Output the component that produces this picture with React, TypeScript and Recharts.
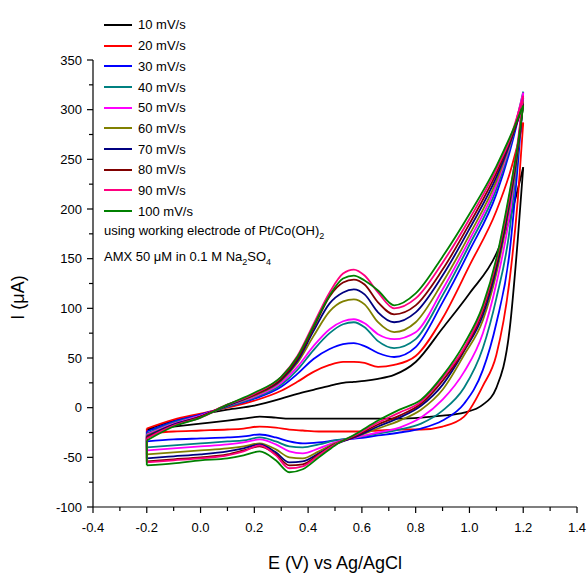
import React from 'react';
import { LineChart, Line, XAxis, YAxis } from 'recharts';

const FONT = '"Liberation Sans", Arial, sans-serif';

const RATES = ['10 mV/s', '20 mV/s', '30 mV/s', '40 mV/s', '50 mV/s', '60 mV/s', '70 mV/s', '80 mV/s', '90 mV/s', '100 mV/s'];
const COLORS = ['#000000', '#ff0000', '#0000ff', '#008080', '#ff00ff', '#808000', '#000080', '#800000', '#ff0080', '#008000'];

// anodic sweep, -0.2 -> 1.2 V
const E_FWD = [-0.2, -0.1, 0, 0.1, 0.2, 0.3, 0.36, 0.42, 0.48, 0.53, 0.57, 0.61, 0.66, 0.72, 0.8, 0.9, 1.0, 1.1, 1.15, 1.2];
// return sweep, listed from low to high potential
const E_REV = [-0.2, -0.1, 0, 0.1, 0.16, 0.22, 0.28, 0.33, 0.38, 0.44, 0.5, 0.58, 0.66, 0.74, 0.82, 0.9, 0.98, 1.05, 1.1, 1.15, 1.18, 1.2];

const I_FWD_10 = [-22, -13, -7, -2, 2, 9, 14, 18, 22, 25, 26, 27, 29, 33, 46, 80, 115, 155, 190, 242];
const I_FWD_20 = [-21, -12, -6, 0, 7, 17, 26, 36, 43, 46, 46, 45, 41, 43, 52, 90, 143, 198, 236, 287];
const I_FWD_30 = [-24, -14, -7, 1, 9, 21, 34, 49, 59, 64, 65, 62, 55, 51, 61, 106, 158, 215, 258, 312];
const I_FWD_40 = [-26, -15, -8, 1, 10, 23, 38, 58, 75, 84, 86, 81, 67, 60, 69, 113, 164, 220, 262, 318];
const I_FWD_50 = [-27, -16, -8, 2, 11, 25, 41, 62, 79, 87, 89, 85, 74, 69, 76, 119, 169, 224, 264, 317];
const I_FWD_60 = [-28, -17, -9, 2, 12, 27, 45, 72, 97, 107, 109, 104, 86, 76, 86, 126, 174, 228, 265, 308];
const I_FWD_70 = [-29, -17, -9, 2, 13, 28, 47, 77, 105, 116, 119, 114, 96, 86, 96, 133, 180, 232, 266, 306];
const I_FWD_80 = [-30, -18, -9, 3, 13, 29, 49, 80, 112, 126, 129, 124, 106, 94, 103, 139, 185, 236, 268, 305];
const I_FWD_90 = [-31, -18, -10, 3, 14, 31, 52, 84, 116, 135, 139, 133, 116, 100, 110, 146, 190, 240, 270, 314];
const I_FWD_100 = [-33, -19, -10, 3, 15, 31, 51, 82, 113, 130, 133, 128, 118, 103, 115, 152, 195, 243, 272, 304];

const I_REV_10 = [-22, -19, -16, -13, -11, -9, -10, -11, -11, -11, -11, -11, -11, -11, -10, -8, -5, 3, 20, 80, 170, 242];
const I_REV_20 = [-26, -24, -23, -22, -21, -19, -20, -22, -23, -24, -24, -24, -23, -22, -22, -19, -9, 22, 53, 130, 210, 287];
const I_REV_30 = [-34, -32, -31, -30, -29, -27, -30, -34, -36, -35, -33, -31, -28, -25, -21, -13, 4, 38, 85, 158, 245, 312];
const I_REV_40 = [-40, -38, -36, -34, -33, -30, -34, -39, -40, -37, -33, -30, -26, -22, -16, -3, 20, 60, 110, 180, 258, 318];
const I_REV_50 = [-43, -41, -39, -37, -35, -32, -37, -44, -46, -41, -35, -30, -25, -20, -10, 8, 36, 75, 125, 195, 262, 317];
const I_REV_60 = [-47, -45, -43, -41, -39, -36, -42, -50, -51, -44, -36, -29, -21, -13, -2, 18, 53, 88, 135, 204, 258, 308];
const I_REV_70 = [-51, -49, -47, -44, -41, -37, -45, -55, -54, -46, -37, -29, -19, -10, 2, 23, 57, 93, 140, 208, 260, 306];
const I_REV_80 = [-54, -52, -50, -47, -43, -39, -47, -58, -57, -47, -37, -28, -17, -8, 4, 27, 58, 97, 144, 212, 262, 305];
const I_REV_90 = [-55, -53, -51, -48, -44, -38, -48, -61, -59, -48, -37, -27, -15, -5, 6, 30, 60, 100, 148, 215, 268, 314];
const I_REV_100 = [-58, -56, -53, -51, -48, -44, -53, -65, -62, -50, -38, -26, -13, -2, 8, 32, 64, 103, 150, 218, 265, 304];

const FWD = [I_FWD_10, I_FWD_20, I_FWD_30, I_FWD_40, I_FWD_50, I_FWD_60, I_FWD_70, I_FWD_80, I_FWD_90, I_FWD_100];
const REV = [I_REV_10, I_REV_20, I_REV_30, I_REV_40, I_REV_50, I_REV_60, I_REV_70, I_REV_80, I_REV_90, I_REV_100];

const X_TICKS = [-0.4, -0.3, -0.2, -0.1, 0, 0.1, 0.2, 0.3, 0.4, 0.5, 0.6, 0.7, 0.8, 0.9, 1.0, 1.1, 1.2, 1.3, 1.4];
const Y_TICKS = [-100, -75, -50, -25, 0, 25, 50, 75, 100, 125, 150, 175, 200, 225, 250, 275, 300, 325, 350];

const series = RATES.map((name, i) => ({
  name,
  color: COLORS[i],
  fwd: E_FWD.map((E, k) => ({ E, I: FWD[i][k] })),
  rev: E_REV.map((E, k) => ({ E, I: REV[i][k] })),
  // closes the loop at the switching potential on the left
  join: [{ E: E_FWD[0], I: FWD[i][0] }, { E: E_REV[0], I: REV[i][0] }],
}));

const XTick = (props: any) => {
  const { x, y, payload } = props;
  const v = payload.value;
  const major = Math.abs(v * 5 - Math.round(v * 5)) < 1e-6;
  return (
    <g>
      <line x1={x} x2={x} y1={y - 6} y2={major ? y : y - 2} stroke="#000" strokeWidth={1.2} />
      {major && (
        <text x={x} y={y + 19} textAnchor="middle" fontSize={13} fontFamily={FONT} fill="#000">
          {v.toFixed(1)}
        </text>
      )}
    </g>
  );
};

const YTick = (props: any) => {
  const { x, y, payload } = props;
  const v = payload.value;
  const major = v % 50 === 0;
  return (
    <g>
      <line x1={major ? x : x + 2} x2={x + 6} y1={y} y2={y} stroke="#000" strokeWidth={1.2} />
      {major && (
        <text x={x - 5} y={y + 4.5} textAnchor="end" fontSize={13} fontFamily={FONT} fill="#000">
          {v}
        </text>
      )}
    </g>
  );
};

const YTitle = (props: any) => {
  const { viewBox } = props;
  const cx = viewBox.x + 24;
  const cy = viewBox.y + viewBox.height / 2 + 14;
  return (
    <text x={cx} y={cy} transform={`rotate(-90, ${cx}, ${cy})`} textAnchor="middle" fontSize={18} fontFamily={FONT} fill="#000">
      I (μA)
    </text>
  );
};

const XTitle = (props: any) => {
  const { viewBox } = props;
  return (
    <text x={viewBox.x + viewBox.width / 2} y={viewBox.y + 62} textAnchor="middle" fontSize={18} fontFamily={FONT} fill="#000">
      E (V) vs Ag/AgCl
    </text>
  );
};

export default function App() {
  return (
    <div style={{ position: 'absolute', left: 0, top: 0, width: 587, height: 575, background: '#fff', fontFamily: FONT }}>
      <LineChart width={587} height={575} margin={{ top: 60, right: 10, bottom: 0, left: 0 }}>
        <XAxis
          type="number"
          dataKey="E"
          domain={[-0.4, 1.4]}
          ticks={X_TICKS}
          interval={0}
          allowDataOverflow
          height={68}
          tickSize={6}
          tickMargin={0}
          tickLine={false}
          tick={XTick}
          axisLine={{ stroke: '#000', strokeWidth: 1.2 }}
          label={XTitle}
        />
        <YAxis
          type="number"
          domain={[-100, 350]}
          ticks={Y_TICKS}
          interval={0}
          allowDataOverflow
          width={93}
          tickSize={6}
          tickMargin={0}
          tickLine={false}
          tick={YTick}
          axisLine={{ stroke: '#000', strokeWidth: 1.2 }}
          label={YTitle}
        />
        {series.map(s => [
          <Line key={s.name + '-f'} data={s.fwd} dataKey="I" type="monotone" stroke={s.color} strokeWidth={1.8} dot={false} isAnimationActive={false} />,
          <Line key={s.name + '-r'} data={s.rev} dataKey="I" type="monotone" stroke={s.color} strokeWidth={1.8} dot={false} isAnimationActive={false} />,
          <Line key={s.name + '-j'} data={s.join} dataKey="I" type="linear" stroke={s.color} strokeWidth={1.8} dot={false} isAnimationActive={false} />,
        ])}
      </LineChart>

      {/* legend + annotation, top left inside the plot */}
      <div style={{ position: 'absolute', left: 104, top: 14.6, fontSize: 13, color: '#000' }}>
        {series.map(s => (
          <div key={s.name} style={{ display: 'flex', alignItems: 'center', height: 20.7 }}>
            <span style={{ display: 'inline-block', width: 28, height: 2, background: s.color, marginRight: 6 }} />
            <span>{s.name}</span>
          </div>
        ))}
        <div style={{ height: 20, lineHeight: '20px', whiteSpace: 'nowrap' }}>
          using working electrode of Pt/Co(OH)<sub style={{ fontSize: 9 }}>2</sub>
        </div>
        <div style={{ height: 20, lineHeight: '20px', marginTop: 6, whiteSpace: 'nowrap' }}>
          AMX 50 μM in 0.1 M Na<sub style={{ fontSize: 9 }}>2</sub>SO<sub style={{ fontSize: 9 }}>4</sub>
        </div>
      </div>
    </div>
  );
}
